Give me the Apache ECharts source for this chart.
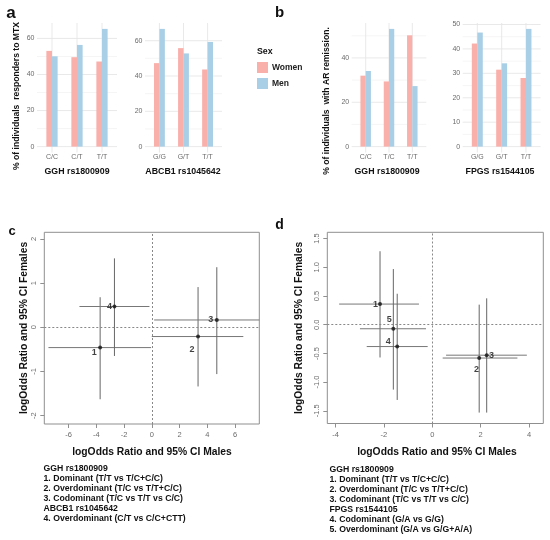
<!DOCTYPE html>
<html><head><meta charset="utf-8">
<script src="https://cdn.jsdelivr.net/npm/echarts@6/dist/echarts.min.js"></script>
<style>html,body{margin:0;padding:0;background:#fff}#c{width:550px;height:540px}</style>
</head><body><div id="c"></div>
<script>
// ---------- data ----------
const sexes = ['Women', 'Men'];
const aLeftCats = ['C/C', 'C/T', 'T/T'];
const aLeftWomen = [53.1, 49.6, 47.2];
const aLeftMen = [50.1, 56.4, 65.3];
const aLeftTicks = [0, 20, 40, 60];
const aRightCats = ['G/G', 'G/T', 'T/T'];
const aRightWomen = [47.3, 55.8, 43.7];
const aRightMen = [66.7, 52.8, 59.3];
const aRightTicks = [0, 20, 40, 60];
const bLeftCats = ['C/C', 'T/C', 'T/T'];
const bLeftWomen = [32.0, 29.4, 50.2];
const bLeftMen = [34.1, 53.1, 27.3];
const bLeftTicks = [0, 20, 40];
const bRightCats = ['G/G', 'G/T', 'T/T'];
const bRightWomen = [42.2, 31.5, 28.1];
const bRightMen = [46.7, 34.1, 48.2];
const bRightTicks = [0, 10, 20, 30, 40, 50];

const cLabels = ['1', '2', '3', '4'];
const cX = [-3.72, 3.33, 4.68, -2.69];
const cY = [-0.46, -0.21, 0.165, 0.47];
const cXLow = [-7.44, 0.0, 0.17, -5.21];
const cXHigh = [-0.05, 6.59, 8.6, -0.17];
const cYLow = [-1.63, -1.34, -1.06, -0.65];
const cYHigh = [0.68, 0.91, 1.36, 1.56];
const cXTicks = [-6, -4, -2, 0, 2, 4, 6];
const cYTicks = [-2, -1, 0, 1, 2];

const dLabels = ['1', '2', '3', '4', '5'];
const dX = [-2.16, 1.94, 2.25, -1.45, -1.61];
const dY = [0.36, -0.58, -0.53, -0.38, -0.07];
const dXLow = [-3.85, 0.43, 0.57, -2.71, -2.99];
const dXHigh = [-0.55, 3.52, 3.91, -0.19, -0.26];
const dYLow = [-0.57, -1.53, -1.53, -1.31, -1.13];
const dYHigh = [1.28, 0.35, 0.46, 0.54, 0.97];
const dXTicks = [-4, -2, 0, 2, 4];
const dYTicks = [-1.5, -1.0, -0.5, 0.0, 0.5, 1.0, 1.5];

const cNotes = ['GGH rs1800909', '1. Dominant (T/T vs T/C+C/C)', '2. Overdominant (T/C vs T/T+C/C)',
  '3. Codominant (T/C vs T/T vs C/C)', 'ABCB1 rs1045642', '4. Overdominant (C/T vs C/C+CTT)'];
const dNotes = ['GGH rs1800909', '1. Dominant (T/T vs T/C+C/C)', '2. Overdominant (T/C vs T/T+C/C)',
  '3. Codominant (T/C vs T/T vs C/C)', 'FPGS rs1544105', '4. Codominant (G/A vs G/G)', '5. Overdominant (G/A vs G/G+A/A)'];

// ---------- layout / style (not data) ----------
const FONT = '"Liberation Sans", Arial, Helvetica, sans-serif';
const COL_W = '#F9AFAA', COL_M = '#A9CFE6';
const barGrids = [
  { left: 37, width: 80 },
  { left: 145, width: 77 },
  { left: 351.7, width: 74.6 },
  { left: 462.7, width: 77.9 }
];
const cLabelShift = [[-6, 5], [-6, 13], [-6, 0], [-5, 0]];
const dLabelShift = [[-4.5, 0], [-2.6, 11], [4.8, 0], [-9, -5], [-4, -9.4]];

const barPanels = [
  { cats: aLeftCats, w: aLeftWomen, m: aLeftMen, ticks: aLeftTicks },
  { cats: aRightCats, w: aRightWomen, m: aRightMen, ticks: aRightTicks },
  { cats: bLeftCats, w: bLeftWomen, m: bLeftMen, ticks: bLeftTicks },
  { cats: bRightCats, w: bRightWomen, m: bRightMen, ticks: bRightTicks }
];

const grid = [], xAxis = [], yAxis = [], series = [];

barPanels.forEach((p, i) => {
  const g = barGrids[i];
  grid.push({ left: g.left, width: g.width, top: 23, height: 129.5 });
  const maxV = Math.max(...p.w, ...p.m);
  const yMin = -0.05 * maxV, yMax = 1.05 * maxV;
  xAxis.push({
    type: 'value', gridIndex: i, min: -0.6, max: p.cats.length - 0.4,
    axisLine: { show: false, onZero: false }, axisTick: { show: false }, splitLine: { show: false },
    axisLabel: { customValues: p.cats.map((c, k) => k), formatter: v => p.cats[Math.round(v)] || '',
      color: '#6b6b6b', fontSize: 7, fontFamily: FONT, margin: 1.5 }
  });
  yAxis.push({
    type: 'value', gridIndex: i, min: yMin, max: yMax,
    axisLine: { show: false, onZero: false }, axisTick: { show: false }, splitLine: { show: false },
    axisLabel: { customValues: p.ticks, color: '#6b6b6b', fontSize: 7, fontFamily: FONT, margin: 2.5 }
  });
  const step = p.ticks[1] - p.ticks[0];
  const gl = [];
  p.ticks.forEach(t => gl.push([t, 0]));
  for (let t = p.ticks[0] + step / 2; t <= yMax - 0.3; t += step) gl.push([t, 1]);
  p.cats.forEach((c, k) => gl.push([k, 2]));
  series.push({
    type: 'custom', xAxisIndex: i, yAxisIndex: i, z: 1, silent: true,
    data: gl,
    renderItem: (params, api) => {
      const cs = params.coordSys; const v = api.value(0), kind = api.value(1);
      if (kind === 2) {
        const x = api.coord([v, 0])[0];
        return { type: 'line', shape: { x1: x, y1: cs.y, x2: x, y2: cs.y + cs.height },
          style: { stroke: '#e6e6e6', lineWidth: 0.9 } };
      }
      const y = api.coord([0, v])[1];
      return { type: 'line', shape: { x1: cs.x, y1: y, x2: cs.x + cs.width, y2: y },
        style: { stroke: kind === 0 ? '#e6e6e6' : '#f1f1f1', lineWidth: kind === 0 ? 0.9 : 0.7 } };
    }
  });
  const bw = g.width / (p.cats.length + 0.2) * 0.225;
  series.push({ type: 'bar', name: sexes[0], xAxisIndex: i, yAxisIndex: i, z: 2, barWidth: bw, barGap: '0%',
    itemStyle: { color: COL_W }, data: p.w.map((v, k) => [k, v]) });
  series.push({ type: 'bar', name: sexes[1], xAxisIndex: i, yAxisIndex: i, z: 2, barWidth: bw, barGap: '0%',
    itemStyle: { color: COL_M }, data: p.m.map((v, k) => [k, v]) });
});

function forestPanel(idx, gridRect, xr, yr, xt, yt, yFmt, X, Y, XL, XH, YL, YH, labels, shifts) {
  grid.push(Object.assign({ show: true, borderColor: '#8f8f8f', borderWidth: 1, backgroundColor: 'transparent' }, gridRect));
  const tickStyle = { show: true, length: 4, inside: false, lineStyle: { color: '#8f8f8f', width: 1 } };
  xAxis.push({ type: 'value', gridIndex: idx, min: xr[0], max: xr[1], position: 'bottom',
    axisLine: { show: false, onZero: false }, splitLine: { show: false },
    axisTick: Object.assign({ customValues: xt }, tickStyle),
    axisLabel: { customValues: xt, color: '#6b6b6b', fontSize: 7.5, fontFamily: FONT, margin: 7 } });
  yAxis.push({ type: 'value', gridIndex: idx, min: yr[0], max: yr[1], position: 'left',
    axisLine: { show: false, onZero: false }, splitLine: { show: false },
    axisTick: Object.assign({ customValues: yt }, tickStyle),
    axisLabel: { customValues: yt, rotate: 90, formatter: yFmt, color: '#6b6b6b', fontSize: 7.5, fontFamily: FONT, margin: 6 } });
  series.push({
    type: 'custom', xAxisIndex: idx, yAxisIndex: idx, clip: true, z: 2, silent: true,
    data: X.map((x, k) => [x, Y[k], XL[k], XH[k], YL[k], YH[k]]),
    renderItem: (params, api) => {
      const cs = params.coordSys;
      const x = api.value(0), y = api.value(1);
      const a = api.coord([api.value(2), y]), b = api.coord([api.value(3), y]);
      const c = api.coord([x, api.value(4)]), d = api.coord([x, api.value(5)]);
      return { type: 'group',
        clipPath: { type: 'rect', shape: { x: cs.x, y: cs.y, width: cs.width, height: cs.height } },
        children: [
          { type: 'line', shape: { x1: a[0], y1: a[1], x2: b[0], y2: b[1] }, style: { stroke: '#777', lineWidth: 1 } },
          { type: 'line', shape: { x1: c[0], y1: c[1], x2: d[0], y2: d[1] }, style: { stroke: '#666', lineWidth: 1 } }
        ] };
    }
  });
  series.push({
    type: 'scatter', xAxisIndex: idx, yAxisIndex: idx, z: 3, symbolSize: 4, silent: true,
    itemStyle: { color: '#111' },
    data: X.map((x, k) => ({ value: [x, Y[k]],
      label: { show: true, formatter: labels[k], position: 'inside', offset: shifts[k],
        fontWeight: 'bold', fontSize: 9, color: '#111', fontFamily: FONT } })),
    markLine: { silent: true, symbol: 'none', label: { show: false },
      lineStyle: { type: [2, 2], color: '#888', width: 1 },
      data: [{ xAxis: 0 }, { yAxis: 0 }] }
  });
}

forestPanel(4, { left: 44.3, top: 232.3, width: 215, height: 191.7 }, [-7.74, 7.74], [-2.19, 2.15],
  cXTicks, cYTicks, v => String(v), cX, cY, cXLow, cXHigh, cYLow, cYHigh, cLabels, cLabelShift);
forestPanel(5, { left: 327.3, top: 232.3, width: 216, height: 191.2 }, [-4.34, 4.59], [-1.72, 1.61],
  dXTicks, dYTicks, v => v.toFixed(1), dX, dY, dXLow, dXHigh, dYLow, dYHigh, dLabels, dLabelShift);

// ---------- texts ----------
const T = (text, x, y, size, opts) => Object.assign({ type: 'text', x, y, silent: true,
  style: Object.assign({ text, font: 'bold ' + size + 'px ' + FONT, fill: '#111', align: 'center', verticalAlign: 'middle' }, (opts && opts.style) || {}) },
  (opts && opts.el) || {});
const graphic = [
  T('a', 11, 13, 17), T('b', 279.5, 12.5, 15), T('c', 12, 231, 13), T('d', 279.5, 225, 14),
  T('GGH rs1800909', 77, 172, 8.8), T('ABCB1 rs1045642', 183, 172, 8.8),
  T('GGH rs1800909', 387, 172, 8.8), T('FPGS rs1544105', 500, 172, 8.8),
  T('% of individuals  responders to MTX', 17, 96, 8.6, { el: { rotation: Math.PI / 2 } }),
  T('% of individuals  with AR remission.', 327, 101, 8.6, { el: { rotation: Math.PI / 2 } }),
  T('Sex', 257, 52, 8.8, { style: { align: 'left' } }),
  T('logOdds Ratio and 95% CI Males', 152, 452, 10.3),
  T('logOdds Ratio and 95% CI Females', 24, 328, 10.3, { el: { rotation: Math.PI / 2 } }),
  T('logOdds Ratio and 95% CI Males', 437, 452, 10.3),
  T('logOdds Ratio and 95% CI Females', 299, 328, 10.3, { el: { rotation: Math.PI / 2 } })
];
cNotes.forEach((s, k) => graphic.push(T(s, 43.5, 468.5 + k * 10, 8.7, { style: { align: 'left' } })));
dNotes.forEach((s, k) => graphic.push(T(s, 329.5, 469.5 + k * 10, 8.7, { style: { align: 'left' } })));

const chart = echarts.init(document.getElementById('c'), null, { renderer: 'canvas' });
chart.setOption({
  animation: false,
  backgroundColor: '#fff',
  textStyle: { fontFamily: FONT },
  legend: { data: sexes, orient: 'vertical', left: 257, top: 62, padding: 0, itemWidth: 11, itemHeight: 11, itemGap: 5,
    icon: 'rect', selectedMode: false, textStyle: { fontWeight: 'bold', fontSize: 8.5, color: '#222', fontFamily: FONT, padding: [0, 0, 0, -1] } },
  grid, xAxis, yAxis, series, graphic
});
</script></body></html>
